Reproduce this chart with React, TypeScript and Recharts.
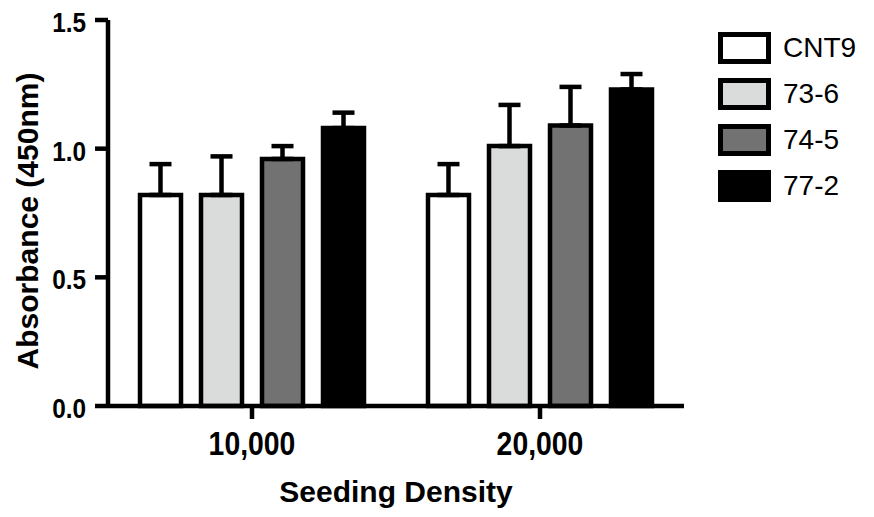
import { BarChart, Bar, XAxis, YAxis, ErrorBar, Legend, Label } from 'recharts';

const categories = ['10,000', '20,000'];
const seriesNames = ['CNT9', '73-6', '74-5', '77-2'];
const seriesFills = ['#ffffff', '#dadcdb', '#727272', '#000000'];

// mean absorbance per seeding density
const cnt9 = [0.82, 0.82];
const line736 = [0.82, 1.01];
const line745 = [0.96, 1.09];
const line772 = [1.08, 1.23];

// upper error (SD), drawn upward only
const cnt9Err = [0.12, 0.12];
const line736Err = [0.15, 0.16];
const line745Err = [0.05, 0.15];
const line772Err = [0.06, 0.06];

const yTicks = [0, 0.5, 1.0, 1.5];

const means = [cnt9, line736, line745, line772];
const errs = [cnt9Err, line736Err, line745Err, line772Err];

const data = categories.map((name, i) => {
  const row: any = { name };
  means.forEach((m, k) => {
    row['s' + k] = m[i];
    row['e' + k] = [0, errs[k][i]];
  });
  return row;
});

const font = 'Liberation Sans, Arial, Helvetica, sans-serif';

// tick text in the original is a bit narrow, so squeeze it horizontally
function XTick({ x, y, payload }: any) {
  const fs = 33;
  return (
    <g transform={`translate(${x} ${y + 0.71 * fs}) scale(0.86 1)`}>
      <text x={0} y={0} textAnchor="middle" fill="#000" fontSize={fs} fontWeight="bold" fontFamily={font}>
        {payload.value}
      </text>
    </g>
  );
}

function YTick({ x, y, payload }: any) {
  const fs = 28;
  return (
    <g transform={`translate(${x} ${y + 0.355 * fs + 2}) scale(0.87 1)`}>
      <text x={0} y={0} textAnchor="end" fill="#000" fontSize={fs} fontWeight="bold" fontFamily={font}>
        {Number(payload.value).toFixed(1)}
      </text>
    </g>
  );
}

function LegendBox() {
  return (
    <div style={{ fontFamily: font }}>
      {seriesNames.map((n, i) => (
        <div key={n} style={{ display: 'flex', alignItems: 'center', height: 32, marginBottom: 14 }}>
          <div
            style={{
              width: 53,
              height: 32,
              boxSizing: 'border-box',
              border: '5px solid #000',
              background: seriesFills[i],
            }}
          />
          <span style={{ marginLeft: 12, fontSize: 28, color: '#000', lineHeight: '32px' }}>{n}</span>
        </div>
      ))}
    </div>
  );
}

export default function App() {
  return (
    <div style={{ position: 'relative', width: 874, height: 517, marginTop: -8, marginLeft: -8 }}>
      <BarChart
        width={874}
        height={517}
        data={data}
        margin={{ top: 20, right: 190, bottom: 0, left: 8 }}
        barSize={41}
        barGap={20}
      >
        <XAxis
          dataKey="name"
          height={111}
          axisLine={{ stroke: '#000', strokeWidth: 4.5 }}
          tickLine={{ stroke: '#000', strokeWidth: 4.5 }}
          tickSize={13}
          tickMargin={13}
          tick={<XTick />}
        >
          <Label
            value="Seeding Density"
            position="insideBottom"
            offset={15}
            style={{ fill: '#000', fontSize: 30, fontWeight: 'bold', fontFamily: font }}
          />
        </XAxis>
        <YAxis
          width={100}
          domain={[0, 1.5]}
          ticks={yTicks}
          interval={0}
          axisLine={{ stroke: '#000', strokeWidth: 4.5 }}
          tickLine={{ stroke: '#000', strokeWidth: 4.5 }}
          tickSize={13}
          tickMargin={9}
          tick={<YTick />}
        >
          <Label
            content={({ viewBox }: any) => {
              const x = viewBox.x + 30;
              const y = viewBox.y + viewBox.height / 2 + 8;
              return (
                <text
                  x={x}
                  y={y}
                  transform={`rotate(-90 ${x} ${y})`}
                  textAnchor="middle"
                  style={{ fill: '#000', fontSize: 30, fontWeight: 'bold', fontFamily: font }}
                >
                  Absorbance (450nm)
                </text>
              );
            }}
          />
        </YAxis>
        <Legend
          layout="vertical"
          align="center"
          verticalAlign="middle"
          content={() => <LegendBox />}
          wrapperStyle={{ position: 'absolute', left: 718, top: 32, width: 150, height: 190 }}
        />
        {seriesNames.map((n, k) => (
          <Bar
            key={n}
            dataKey={'s' + k}
            name={n}
            fill={seriesFills[k]}
            stroke="#000"
            strokeWidth={4.5}
            isAnimationActive={false}
          >
            <ErrorBar dataKey={'e' + k} direction="y" width={11} stroke="#000" strokeWidth={4.5} />
          </Bar>
        ))}
      </BarChart>
    </div>
  );
}
